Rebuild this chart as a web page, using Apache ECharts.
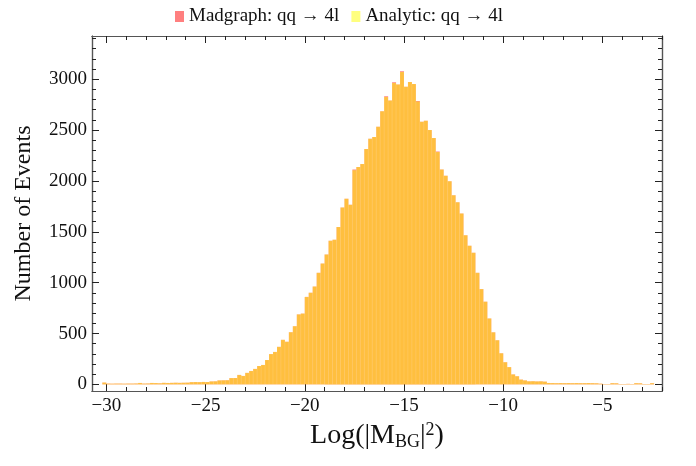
<!DOCTYPE html>
<html><head><meta charset="utf-8">
<script src="https://cdn.jsdelivr.net/npm/echarts@6/dist/echarts.min.js"></script>
<style>html,body{margin:0;padding:0;background:#fff}#c{width:696px;height:466px}</style>
</head><body><div id="c"></div>
<script>
// Histogram bins: left edge of first bin and bin width
const binStart = -30.2;
const binWidth = 0.2;
// Counts per bin (139 bins from -30.2 to -2.4)
const madgraph = [
18,8,7,8,8,7,8,8,9,14,
8,9,14,13,11,15,14,15,16,15,
16,17,22,23,22,24,23,29,30,39,
40,41,62,63,93,83,113,132,152,181,
191,240,298,319,369,438,419,513,572,688,
696,860,901,962,1097,1188,1276,1412,1423,1548,
1738,1826,1767,2112,2138,2166,2315,2415,2433,2534,
2685,2833,2791,2970,2947,3078,2927,2973,2953,2786,
2582,2592,2502,2423,2290,2112,2052,1998,1859,1791,
1681,1465,1364,1295,1097,937,813,648,512,434,
306,218,170,98,80,47,39,30,31,29,
30,27,14,13,12,13,12,13,12,13,
12,12,13,12,11,7,4,4,12,11,
4,4,5,4,12,11,4,4,12];
const analytic = [
18,8,7,8,8,7,8,8,9,14,
8,9,14,13,11,15,14,15,16,15,
16,17,22,23,22,24,23,29,30,39,
40,41,62,63,93,83,113,132,152,181,
191,240,298,319,369,438,419,513,572,688,
696,860,901,962,1097,1188,1276,1412,1423,1548,
1738,1826,1767,2105,2138,2166,2315,2415,2433,2534,
2685,2826,2791,2964,2947,3070,2927,2973,2953,2780,
2582,2592,2502,2423,2285,2112,2052,1998,1859,1791,
1681,1465,1364,1295,1097,937,813,648,512,434,
306,218,170,98,80,47,39,30,31,29,
30,27,14,13,12,13,12,13,12,13,
12,12,13,12,11,7,4,4,12,11,
4,4,5,4,12,11,4,4,12];
const seriesNames = ['Madgraph: qq \u2192 4l', 'Analytic: qq \u2192 4l'];
const xMajor = [-30,-25,-20,-15,-10,-5];
const xMinor = [-30,-29,-28,-27,-26,-25,-24,-23,-22,-21,-20,-19,-18,-17,-16,-15,-14,-13,-12,-11,-10,-9,-8,-7,-6,-5,-4,-3,-2];
const yMajor = [0,500,1000,1500,2000,2500,3000];
const yMinor = [0,100,200,300,400,500,600,700,800,900,1000,1100,1200,1300,1400,1500,1600,1700,1800,1900,2000,2100,2200,2300,2400,2500,2600,2700,2800,2900,3000,3100,3200,3300,3400];

const XMIN = -30.72, XMAX = -2.0, YMIN = -65, YMAX = 3425;
const FONT = 'Liberation Serif';
const frameColor = '#555';

function toData(vals){
  return vals.map((v,i)=>[binStart+i*binWidth, binStart+(i+1)*binWidth, v]);
}
function makeSeries(name, vals, color, stroke){
  return {
    type:'custom', name:name, xAxisIndex:0, yAxisIndex:0,
    itemStyle:{color:color},
    data: toData(vals),
    renderItem:function(params, api){
      const p0 = api.coord([api.value(0), api.value(2)]);
      const p1 = api.coord([api.value(1), 0]);
      return {type:'rect', shape:{x:p0[0], y:p0[1], width:p1[0]-p0[0], height:p1[1]-p0[1]},
        style:{fill:color, stroke:stroke, lineWidth:stroke?0.5:0}};
    }
  };
}
const fmt = v => (v<0 ? '\u2212'+Math.abs(v) : String(v));
function xAx(pos, vals, len, labels){
  return {type:'value', min:XMIN, max:XMAX, position:pos, gridIndex:0,
    axisLine:{show:true, onZero:false, lineStyle:{color:frameColor, width:1.2}},
    axisTick:{show:true, inside:true, length:len, customValues:vals, lineStyle:{color:'#222', width:1}},
    axisLabel:{show:labels, customValues:vals, formatter:fmt, fontFamily:FONT, fontSize:19, color:'#111', margin:6},
    splitLine:{show:false}};
}
function yAx(pos, vals, len, labels){
  return {type:'value', min:YMIN, max:YMAX, position:pos, gridIndex:0,
    axisLine:{show:true, onZero:false, lineStyle:{color:frameColor, width:1.2}},
    axisTick:{show:true, inside:true, length:len, customValues:vals, lineStyle:{color:'#222', width:1}},
    axisLabel:{show:labels, customValues:vals, formatter:v=>String(v), fontFamily:FONT, fontSize:19, color:'#111', margin:5},
    splitLine:{show:false}};
}
const xAxes = [xAx('bottom', xMajor, 7, true), xAx('bottom', xMinor, 4, false), xAx('top', xMajor, 7, false), xAx('top', xMinor, 4, false)];
xAxes[0].name = '{n|Log(|M}{s|BG}{n||}{p|2}{n|)}';
xAxes[0].nameLocation = 'middle';
xAxes[0].nameGap = 28;
xAxes[0].nameTextStyle = {fontFamily:FONT, color:'#111', rich:{
  n:{fontFamily:FONT, fontSize:28, color:'#111'},
  s:{fontFamily:FONT, fontSize:18, color:'#111', verticalAlign:'bottom', padding:[12,0,0,0]},
  p:{fontFamily:FONT, fontSize:18, color:'#111', verticalAlign:'top', padding:[0,0,12,0]}}};
const yAxes = [yAx('left', yMajor, 7, true), yAx('left', yMinor, 4, false), yAx('right', yMajor, 7, false), yAx('right', yMinor, 4, false)];
yAxes[0].name = 'Number of Events';
yAxes[0].nameLocation = 'middle';
yAxes[0].nameGap = 56;
yAxes[0].nameTextStyle = {fontFamily:FONT, fontSize:24, color:'#111'};

const chart = echarts.init(document.getElementById('c'), null, {renderer:'canvas'});
chart.setOption({
  animation:false,
  backgroundColor:'#fff',
  legend:{top:2, left:170, itemWidth:9, itemHeight:11, itemGap:12, icon:'rect',
    textStyle:{fontFamily:FONT, fontSize:19, color:'#111'}, data:seriesNames},
  grid:{left:92, right:34, top:36, bottom:75, containLabel:false},
  xAxis:xAxes,
  yAxis:yAxes,
  series:[
    makeSeries(seriesNames[0], madgraph, 'rgba(255,0,0,0.5)', null),
    makeSeries(seriesNames[1], analytic, 'rgba(255,255,0,0.5)', 'rgba(255,255,255,0.15)')
  ]
});
</script></body></html>
